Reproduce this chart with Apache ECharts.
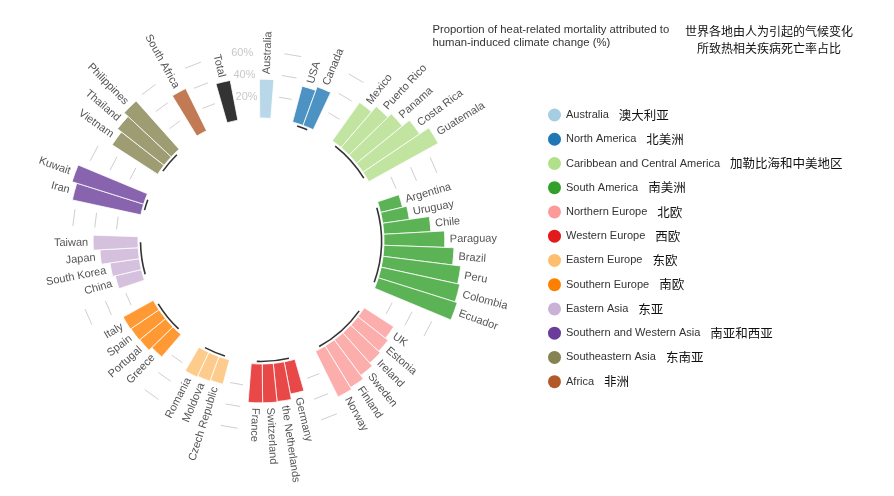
<!DOCTYPE html>
<html><head><meta charset="utf-8">
<script src="https://cdn.jsdelivr.net/npm/echarts@6/dist/echarts.min.js"></script>
<style>html,body{margin:0;padding:0;background:#fff}#c{width:894px;height:496px}</style>
</head><body><div id="c"></div>
<script>
// ---------- data ----------
const regionNames = ['Australia','North America','Caribbean and Central America','South America','Northern Europe','Western Europe','Eastern Europe','Southern Europe','Eastern Asia','Southern and Western Asia','Southeastern Asia','Africa'];
const regionNamesZh = ['澳大利亚','北美洲','加勒比海和中美地区','南美洲','北欧','西欧','东欧','南欧','东亚','南亚和西亚','东南亚','非洲'];

const australiaNames = ['Australia'];
const australiaValues = [35.5];
const northAmericaNames = ['USA','Canada'];
const northAmericaValues = [34, 37.5];
const caribbeanNames = ['Mexico','Puerto Rico','Panama','Costa Rica','Guatemala'];
const caribbeanValues = [43, 49.5, 54, 62.5, 72.5];
const southAmericaNames = ['Argentina','Uruguay','Chile','Paraguay','Brazil','Peru','Colombia','Ecuador'];
const southAmericaValues = [20.5, 24.5, 43, 55.5, 64, 71.5, 73.5, 75.5];
const northernEuropeNames = ['UK','Estonia','Ireland','Sweden','Finland','Norway'];
const northernEuropeValues = [32, 35, 37, 40.5, 44.5, 46.5];
const westernEuropeNames = ['Germany','the Netherlands','Switzerland','France'];
const westernEuropeValues = [30, 35, 35.5, 35.5];
const easternEuropeNames = ['Czech Republic','Moldova','Romania'];
const easternEuropeValues = [23, 24, 25];
const southernEuropeNames = ['Greece','Portugal','Spain','Italy'];
const southernEuropeValues = [27, 30.5, 31, 31.5];
const easternAsiaNames = ['China','South Korea','Japan','Taiwan'];
const easternAsiaValues = [24.5, 27, 35, 41];
const swAsiaNames = ['Iran','Kuwait'];
const swAsiaValues = [64, 68.5];
const seAsiaNames = ['Vietnam','Thailand','Philippines'];
const seAsiaValues = [49.5, 54, 59];
const africaNames = ['South Africa'];
const africaValues = [43];
const totalNames = ['Total'];
const totalValues = [37];

const gridValues = [20, 40, 60];
const gridLabels = ['20%', '40%', '60%'];

const titleEn = ['Proportion of heat-related mortality attributed to', 'human-induced climate change (%)'];
const titleZh = ['世界各地由人为引起的气候变化', '所致热相关疾病死亡率占比'];

// ---------- styles ----------
const regionColors = ['#a6cee3','#1f78b4','#b2df8a','#33a02c','#fb9a99','#e31a1c','#fdbf6f','#ff7f00','#cab2d6','#6a3d9a','#858350','#b15928'];
const totalColor = '#000000';
const FONT = '"Liberation Sans", Arial, Helvetica, sans-serif';
const CJK = '"Noto Sans CJK SC", sans-serif';

// ---------- build slots ----------
const groupNames = [australiaNames, northAmericaNames, caribbeanNames, southAmericaNames, northernEuropeNames, westernEuropeNames, easternEuropeNames, southernEuropeNames, easternAsiaNames, swAsiaNames, seAsiaNames, africaNames, totalNames];
const groupValues = [australiaValues, northAmericaValues, caribbeanValues, southAmericaValues, northernEuropeValues, westernEuropeValues, easternEuropeValues, southernEuropeValues, easternAsiaValues, swAsiaValues, seAsiaValues, africaValues, totalValues];
const groupColors = regionColors.concat([totalColor]);
const GAP = 2;
const slotNames = [], slotGroup = [], slotValue = [], gapStarts = [], groupRanges = [];
groupNames.forEach((names, g) => {
  const first = slotNames.length;
  names.forEach((n, k) => { slotNames.push(n); slotGroup.push(g); slotValue.push(groupValues[g][k]); });
  groupRanges.push([first, slotNames.length - 1]);
  gapStarts.push(slotNames.length);
  for (let k = 0; k < GAP; k++) { slotNames.push('_gap' + slotNames.length); slotGroup.push(-1); slotValue.push(null); }
});

const labelData = [], labelText = [];
slotNames.forEach((n, i) => { if (slotGroup[i] >= 0) { labelData.push([slotValue[i], i]); labelText.push(n); } });

const ARC_V = -2.3;
const arcData = [];
groupRanges.forEach((r, g) => { if (r[1] > r[0]) arcData.push([ARC_V, r[0], r[1]]); });

const dashData = [];
gapStarts.slice(0, -1).forEach(s => gridValues.forEach(v => dashData.push([v, s])));
const lastGap = gapStarts[gapStarts.length - 1];
const gridLabelData = gridValues.map(v => [v, lastGap]);

// ---------- series ----------
const series = groupNames.map((names, g) => ({
  name: g < regionNames.length ? regionNames[g] : 'Total',
  type: 'bar', coordinateSystem: 'polar', stack: 'all',
  barCategoryGap: '0%', silent: true,
  itemStyle: { color: groupColors[g], opacity: 0.8, borderColor: '#ffffff', borderWidth: 1 },
  data: slotValue.map((v, i) => slotGroup[i] === g ? v : '-')
}));

const LABEL_GAP = 5;
series.push({
  type: 'custom', coordinateSystem: 'polar', silent: true, z: 5,
  data: labelData,
  renderItem: (params, api) => {
    const cs = params.coordSys;
    const p = api.coord([api.value(0), api.value(1)]);
    const dx = p[0] - cs.cx, dy = p[1] - cs.cy, d = Math.hypot(dx, dy);
    const x = p[0] + dx / d * LABEL_GAP, y = p[1] + dy / d * LABEL_GAP;
    let th = Math.atan2(dx, -dy) * 180 / Math.PI; if (th < 0) th += 360;
    const right = th < 190;
    const rot = (right ? 90 - th : 270 - th) * Math.PI / 180;
    return { type: 'text', x: x, y: y, rotation: rot,
      style: { text: labelText[params.dataIndex], align: right ? 'left' : 'right', verticalAlign: 'middle', fill: '#555555', font: '11px ' + FONT } };
  }
});
series.push({
  type: 'custom', coordinateSystem: 'polar', silent: true, z: 4,
  data: arcData,
  renderItem: (params, api) => {
    const cs = params.coordSys;
    const p1 = api.coord([api.value(0), api.value(1)]);
    const p2 = api.coord([api.value(0), api.value(2)]);
    const r = Math.hypot(p1[0] - cs.cx, p1[1] - cs.cy);
    return { type: 'arc', shape: { cx: cs.cx, cy: cs.cy, r: r,
      startAngle: Math.atan2(p1[1] - cs.cy, p1[0] - cs.cx), endAngle: Math.atan2(p2[1] - cs.cy, p2[0] - cs.cx), clockwise: true },
      style: { stroke: '#333333', lineWidth: 1.6, fill: 'none' } };
  }
});
series.push({
  type: 'custom', coordinateSystem: 'polar', silent: true, z: 1,
  data: dashData,
  renderItem: (params, api) => {
    const p1 = api.coord([api.value(0), api.value(1)]);
    const p2 = api.coord([api.value(0), api.value(1) + 1]);
    return { type: 'line', shape: { x1: p1[0], y1: p1[1], x2: p2[0], y2: p2[1] }, style: { stroke: '#cfcfcf', lineWidth: 1 } };
  }
});
series.push({
  type: 'custom', coordinateSystem: 'polar', silent: true, z: 1,
  data: gridLabelData,
  renderItem: (params, api) => {
    const p1 = api.coord([api.value(0), api.value(1)]);
    const p2 = api.coord([api.value(0), api.value(1) + 1]);
    return { type: 'text', x: (p1[0] + p2[0]) / 2, y: (p1[1] + p2[1]) / 2,
      style: { text: gridLabels[params.dataIndex], align: 'center', verticalAlign: 'middle', fill: '#c8c8c8', font: '11px ' + FONT } };
  }
});

const chart = echarts.init(document.getElementById('c'), null, { renderer: 'canvas' });
chart.setOption({
  animation: false,
  backgroundColor: '#ffffff',
  polar: { center: [261, 241], radius: [118.62, 210.6] },
  angleAxis: { type: 'category', data: slotNames, startAngle: 90.57, clockwise: true,
    axisLine: { show: false }, axisTick: { show: false }, axisLabel: { show: false }, splitLine: { show: false } },
  radiusAxis: { type: 'value', min: -4, max: 80,
    axisLine: { show: false }, axisTick: { show: false }, axisLabel: { show: false }, splitLine: { show: false } },
  legend: {
    orient: 'vertical', left: 548, top: 108.5, padding: 0, itemWidth: 13, itemHeight: 13, itemGap: 11.24,
    icon: 'circle', selectedMode: false,
    itemStyle: { opacity: 1, borderWidth: 0 },
    data: regionNames.map((n, i) => ({ name: n, itemStyle: { color: regionColors[i], opacity: 1, borderWidth: 0 } })),
    formatter: name => '{en|' + name + '}{zh|' + regionNamesZh[regionNames.indexOf(name)] + '}',
    textStyle: { rich: {
      en: { fontSize: 11, fontFamily: 'Liberation Sans', color: '#333333', padding: [0, 10, 0, 0], lineHeight: 13, verticalAlign: 'middle' },
      zh: { fontSize: 12.5, fontFamily: 'Noto Sans CJK SC', color: '#111111', lineHeight: 13, verticalAlign: 'middle' }
    } }
  },
  graphic: [
    { type: 'text', x: 432.5, y: 29.5, style: { text: titleEn[0], fill: '#333333', font: '11.3px ' + FONT, verticalAlign: 'middle', align: 'left' } },
    { type: 'text', x: 432.5, y: 43, style: { text: titleEn[1], fill: '#333333', font: '11.3px ' + FONT, verticalAlign: 'middle', align: 'left' } },
    { type: 'text', x: 769, y: 31, style: { text: titleZh[0], fill: '#111111', font: '12px ' + CJK, verticalAlign: 'middle', align: 'center' } },
    { type: 'text', x: 769, y: 48, style: { text: titleZh[1], fill: '#111111', font: '12px ' + CJK, verticalAlign: 'middle', align: 'center' } }
  ],
  series: series
});
</script></body></html>
